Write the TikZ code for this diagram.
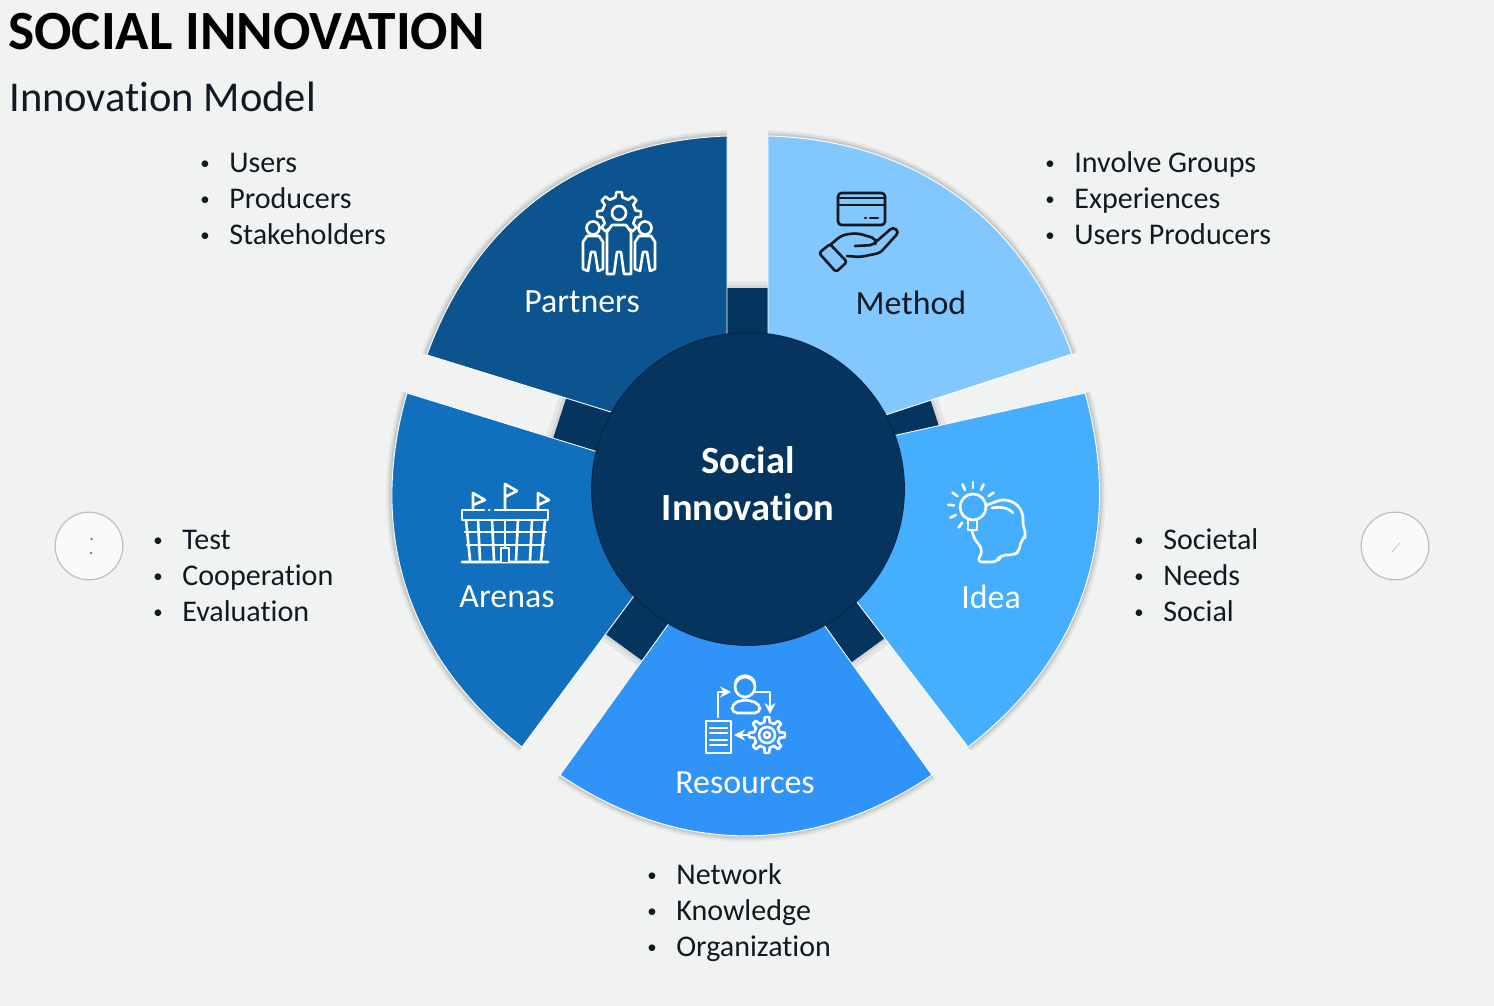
\documentclass[tikz,border=0pt]{standalone}
\usepackage{fontspec}
\setmainfont{Carlito}[Ligatures=NoCommon]
\usepackage{tikz}
\usetikzlibrary{arrows.meta}
\definecolor{pagegray}{HTML}{F1F3F3}
\definecolor{hubblue}{HTML}{05345F}
\definecolor{partnersblue}{HTML}{0B5490}
\definecolor{methodblue}{HTML}{82C8FF}
\definecolor{ideablue}{HTML}{45AEFE}
\definecolor{resourcesblue}{HTML}{3093F7}
\definecolor{arenasblue}{HTML}{1170BE}
\definecolor{inkblack}{HTML}{111A22}
\tikzset{
  linkbar/.style   = {fill=hubblue},
  iconline/.style  = {white,line width=1.5pt,line join=round,line cap=round},
  iconarr/.style   = {iconline,-{Stealth[length=2.2mm,width=2.2mm]}},
  seclabel/.style  = {font=\fontsize{19.3}{22}\selectfont,white,inner sep=0pt},
  notes/.style     = {font=\fontsize{17.1}{20.5}\selectfont,inkblack,align=left,anchor=north west,inner sep=0pt},
  navdisc/.style   = {circle,draw=gray!50,line width=0.7pt,fill=white!60!pagegray,minimum size=38.5pt,inner sep=0pt}
}
\newcommand{\bl}[1]{\strut\makebox[16.5pt][l]{\raisebox{1.8pt}{\fontsize{10.7}{11}\selectfont\textbullet}}#1}
\newcommand{\sectorshape}[5]{%
  \foreach \w/\o in {7pt/.08,5pt/.12,3pt/.2}{
    \draw[gray,line width=\w,opacity=\o] (#2) to[bend left=34] (#3);
  }
  \fill[#1,draw=white,line width=.5pt] (#2) to[bend left=34] (#3) -- (#4) -- (#5) -- cycle;
}
\newcommand{\gearmark}[4]{%
  \draw[iconline,#4,shift={(#1,#2)}] (-12:#3) \foreach \a in {0,45,...,315}{
    -- ({\a-12}:#3) -- ({\a-7}:#3+5) -- ({\a+7}:#3+5) -- ({\a+12}:#3)} -- cycle;
}
\newcommand{\crewmark}[3]{%
  \draw[iconline,fill=partnersblue] (#1,#2-8) circle (6.5);
  \draw[iconline,fill=partnersblue] (#1-10,#2+33) -- (#1-10,#2+6) -- (#1-6,#2) -- (#1+6,#2)
    -- (#1+10,#2+6) -- (#1+#3,#2+33) -- (#1+5,#2+35) -- (#1+2,#2+16) -- (#1-2,#2+16) -- (#1-5,#2+35) -- cycle;
}
\begin{document}
\begin{tikzpicture}[x=0.02cm,y=-0.02cm]
  \useasboundingbox[fill=pagegray] (0,0) rectangle (1494,1006);
  \coordinate (hub) at (748,489);
  % dark links between the sectors and the hub
  \foreach \turn in {0,72,144,216,288}{
    \fill[gray,opacity=.12,rotate around={\turn:(hub)}] (715,281) rectangle (781,345);
    \fill[gray,opacity=.15,rotate around={\turn:(hub)}] (715,285) rectangle (781,345);
    \fill[linkbar,rotate around={\turn:(hub)}] (715,288) rectangle (781,345);
  }
  % sectors
  \sectorshape{partnersblue}{427,355}{727,136}{727,345}{640,421}
  \sectorshape{methodblue}{768,136}{1072,354}{855,425}{768,345}
  \sectorshape{ideablue}{1085,393}{968,747}{840,580}{870,441}
  \sectorshape{resourcesblue}{932,775}{560,775}{680,608}{812,608}
  \sectorshape{arenasblue}{522,747}{407,393}{627,461}{651,573}
  \node[circle,fill=hubblue,draw=hubblue!75!black,line width=0.6pt,minimum size=178pt,inner sep=0pt] (hubdisc) at (hub) {};
  \node[font=\fontsize{21.9}{26.7}\selectfont\bfseries,white,align=center] (hubtext) at (748,484) {Social\\Innovation};
  % titles
  \node[font=\fontsize{31.5}{33}\selectfont\bfseries,black,anchor=base west,inner sep=0pt] (title) at (8,50) {SOCIAL INNOVATION};
  \node[font=\fontsize{24.2}{26}\selectfont,inkblack,anchor=base west,inner sep=0pt] (subtitle) at (9,112) {Innovation Model};
  % sector names
  \node[seclabel] (partners) at (582,302) {Partners};
  \node[seclabel,text=inkblack] (method) at (911,303) {Method};
  \node[seclabel] (idea) at (991,597) {Idea};
  \node[seclabel] (resources) at (745,783) {Resources};
  \node[seclabel] (arenas) at (507,597) {Arenas};
  % bullet lists
  \node[notes] (partnersnotes) at (200,147) {\bl{Users}\\\bl{Producers}\\\bl{Stakeholders}};
  \node[notes] (methodnotes) at (1045,147) {\bl{Involve Groups}\\\bl{Experiences}\\\bl{Users Producers}};
  \node[notes] (arenasnotes) at (153,524) {\bl{Test}\\\bl{Cooperation}\\\bl{Evaluation}};
  \node[notes] (ideanotes) at (1134,524) {\bl{Societal}\\\bl{Needs}\\\bl{Social}};
  \node[notes] (resourcesnotes) at (647,859) {\bl{Network}\\\bl{Knowledge}\\\bl{Organization}};
  % side discs
  \node[navdisc] (leftdisc) at (89,546) {};
  \node[navdisc] (rightdisc) at (1395,546) {};
  \fill[gray] (91.5,539) circle (1.3) (91,553) circle (1.3);
  \draw[gray!50,thin] (1392,552) -- (1400,543);
  % partners icon
  \gearmark{619}{214}{17}{}
  \draw[iconline,fill=partnersblue] (619,213) circle (7);
  \crewmark{593}{236}{10}
  \crewmark{645}{236}{10}
  \draw[iconline,fill=partnersblue] (607,274) -- (607,232) -- (612,225) -- (626,225) -- (631,232) -- (631,274) -- (624,274) -- (621,252) -- (617,252) -- (614,274) -- cycle;
  % method icon
  \begin{scope}[iconline/.append style={inkblack}]
    \draw[iconline,rounded corners=2pt] (838,193) rectangle (885,225);
    \draw[iconline] (838,198) -- (885,198) (838,205) -- (885,205) (865,218) -- (866,218) (870,218) -- (878,218);
    \draw[iconline,rounded corners=1.5pt] (819,253) -- (830,244) -- (847,262) -- (836,272) -- cycle;
    \draw[iconline,rounded corners=3pt] (830,245) -- (842,235) -- (857,233) -- (877,239) -- (875,245) -- (855,246);
    \draw[iconline,rounded corners=2pt] (877,241) -- (893,227) -- (899,232) -- (880,253) -- (860,257) -- (847,256);
  \end{scope}
  % arenas icon
  \draw[iconline] (484,510) -- (462,510) -- (462,520) -- (548,520) -- (548,510) -- (495,510) (489,510) -- (489.5,510);
  \draw[iconline] (466,520) -- (470,560) (545,520) -- (541,560) (462,562) -- (548,562);
  \draw[iconline] (465,532) -- (546,532) (467,545) -- (544,545);
  \foreach \xa/\xb in {478/480,492/494,505/505,518/516,532/530}{
    \draw[iconline] (\xa,520) -- (\xb,560);
  }
  \draw[iconline,fill=arenasblue] (501,562) -- (501,548) -- (509,548) -- (509,562);
  \draw[iconline] (473,510) -- (473,493) -- (485,500) -- (473,505);
  \draw[iconline] (505,510) -- (505,484) -- (517,491) -- (505,497);
  \draw[iconline] (538,510) -- (538,493) -- (549,500) -- (538,505);
  % idea icon
  \draw[iconline] (973,507) circle (13);
  \draw[iconline] (968,520) rectangle (977,530);
  \foreach \a in {-90,-115,-65,-145,-35,-175,155,125}{
    \draw[iconline,shift={(973,507)}] (\a:19) -- (\a:25);
  }
  \draw[iconline,rounded corners=3pt] (987,505) -- (1003,499) -- (1016,503) -- (1023,513) -- (1023,527) -- (1027,536) -- (1021,540) -- (1019,552) -- (1013,555) -- (1000,555) -- (998,562) -- (977,562) -- (983,550) -- (973,537) -- (972,530);
  \draw[iconline] (992,508) .. controls (1003,506) and (1010,509) .. (1013,513);
  % resources icon
  \draw[iconline] (745,687) circle (10);
  \draw[iconline] (735,684) .. controls (737,673) and (753,673) .. (755,684);
  \draw[iconline,rounded corners=3pt] (732,713) -- (732,704) -- (742,700) -- (748,700) -- (760,704) -- (760,713) -- cycle;
  \draw[iconline] (706,721) rectangle (731,753);
  \draw[iconline] (710,728) -- (727,728) (710,733) -- (727,733) (710,740) -- (727,740) (710,745) -- (727,745);
  \gearmark{767}{735}{13}{}
  \draw[iconline] (767,735) circle (8) (767,735) circle (3);
  \draw[iconarr] (749,735) -- (734,735);
  \draw[iconarr] (718,717) -- (718,692) -- (731,692);
  \draw[iconarr] (755,692) -- (770,692) -- (770,714);
\end{tikzpicture}
\end{document}
